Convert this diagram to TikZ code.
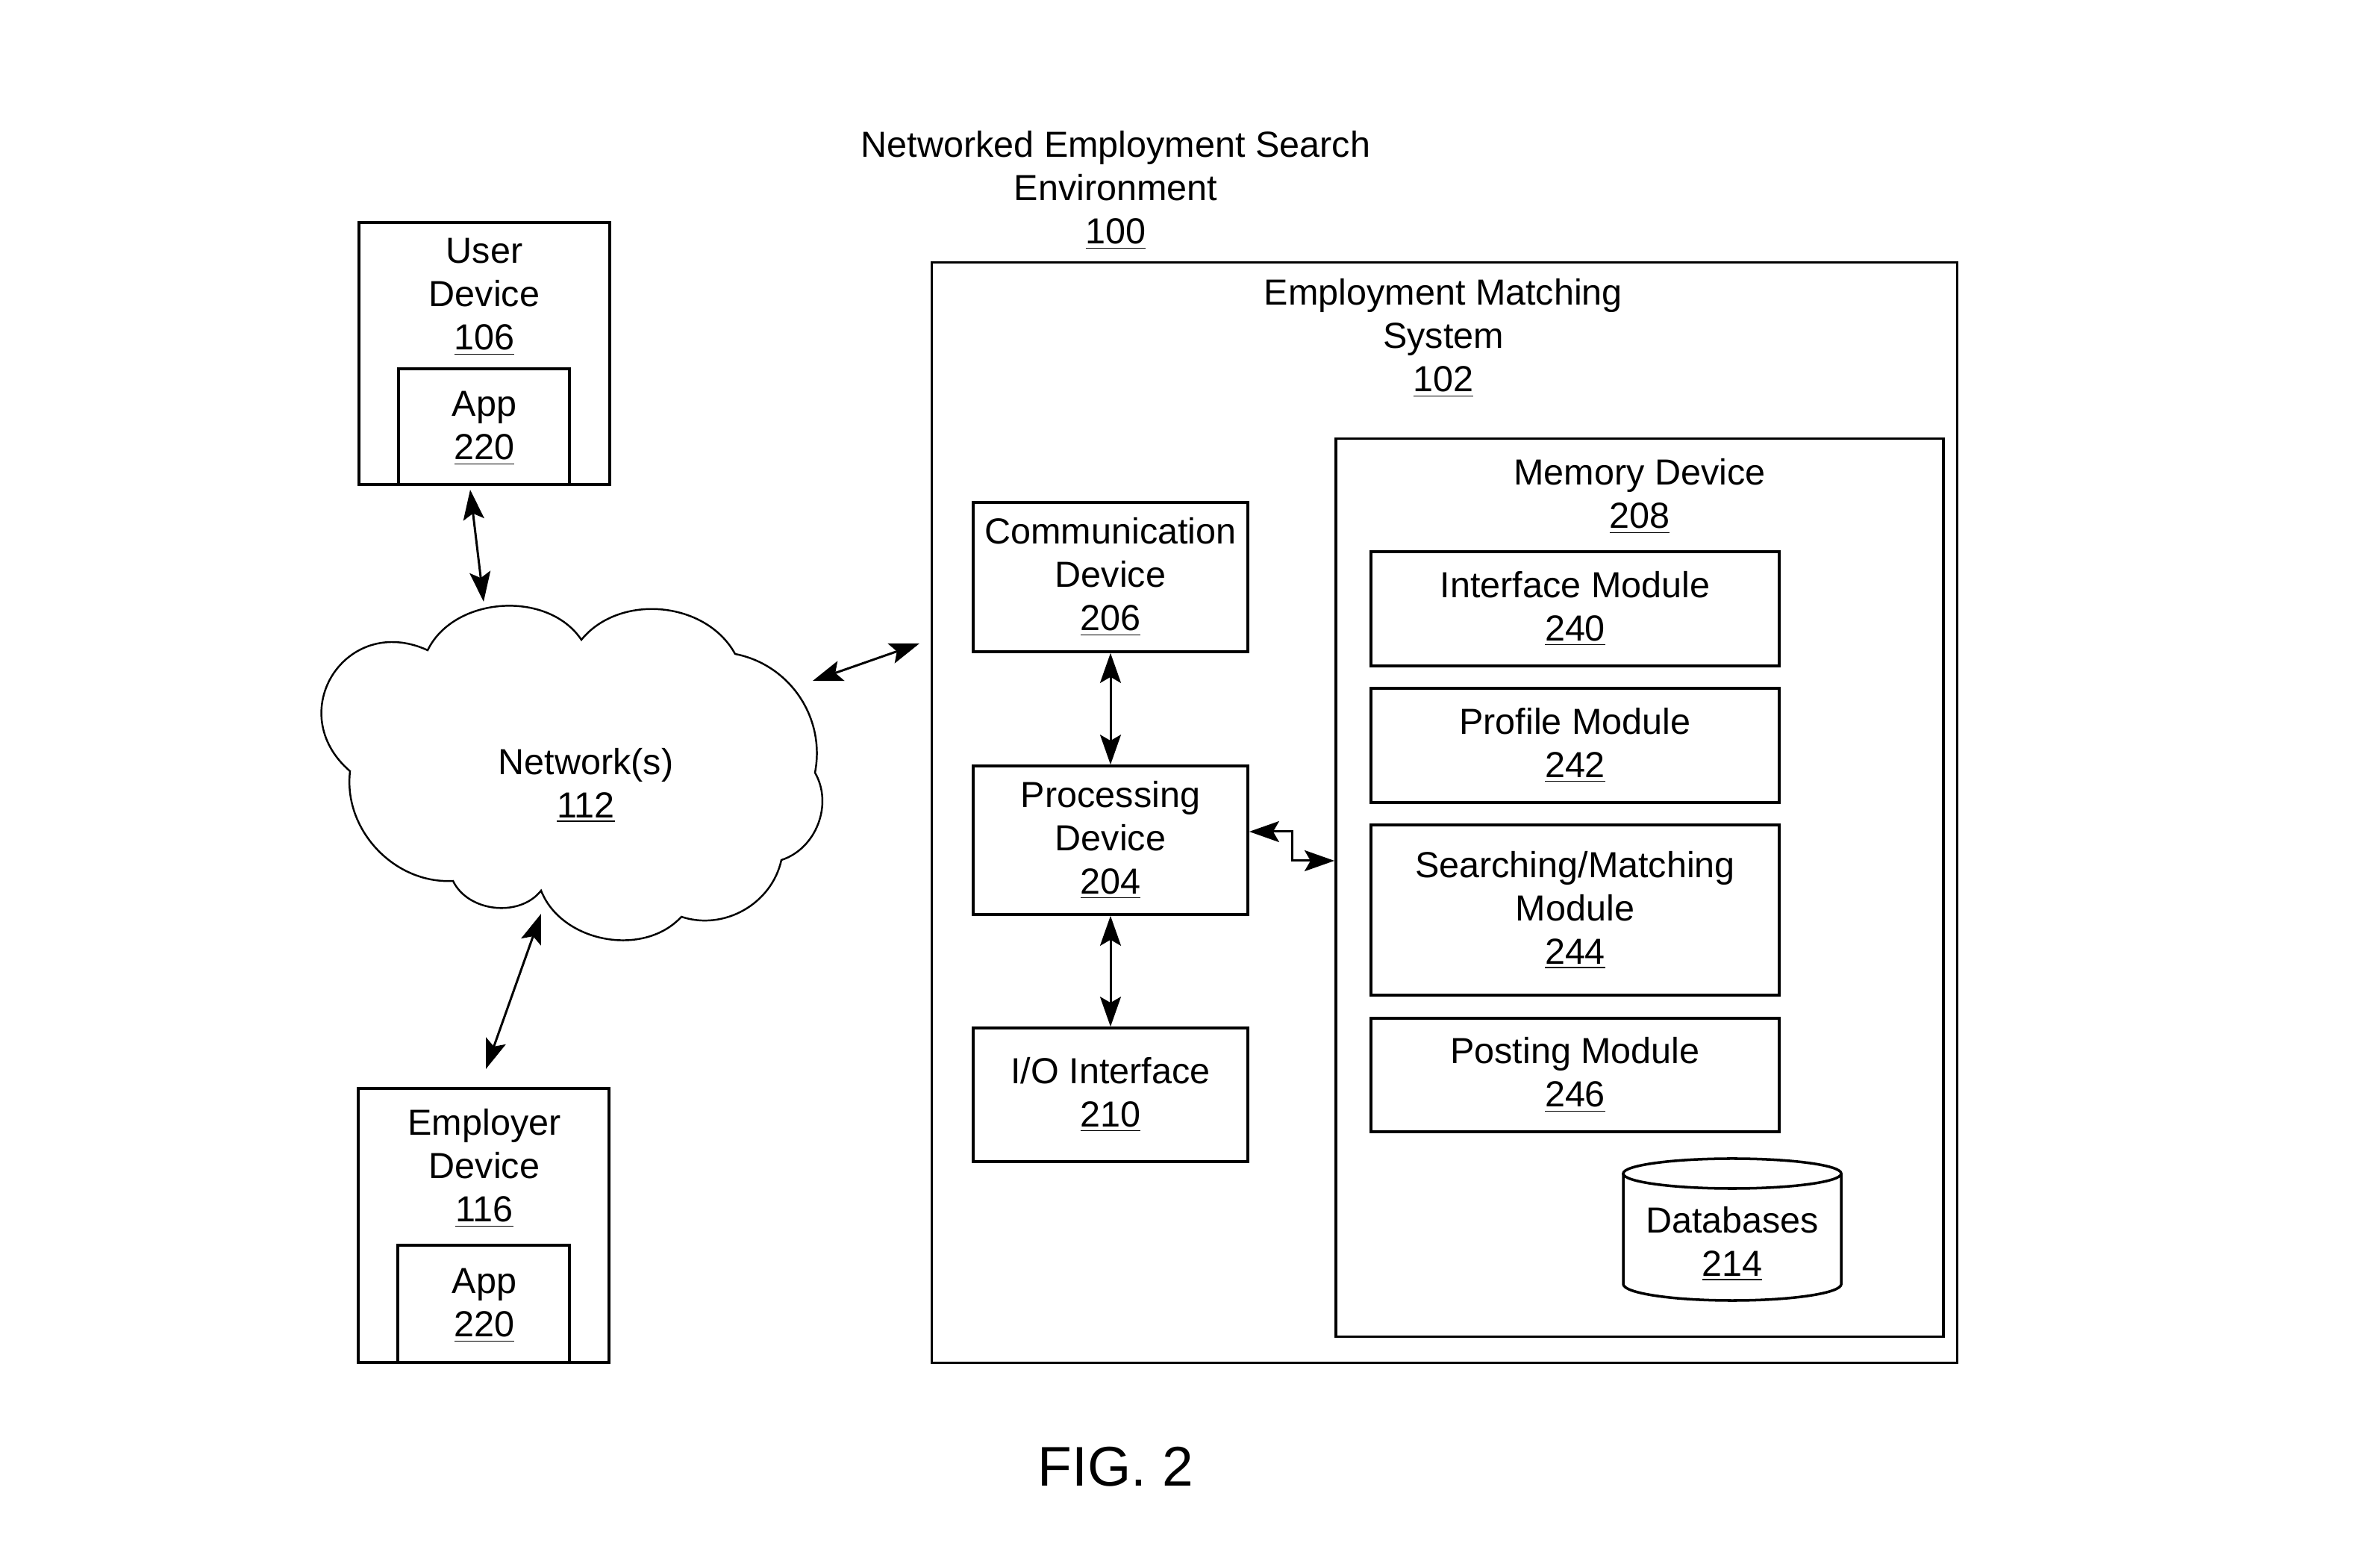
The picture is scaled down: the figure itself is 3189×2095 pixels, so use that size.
\documentclass[tikz,border=0pt]{standalone}
\usepackage{fontspec}
\setmainfont{Liberation Sans}
\usetikzlibrary{arrows.meta,calc}
\newcommand\dfont{\fontsize{13.8}{16.5}\selectfont}
\begin{document}
\begin{tikzpicture}[x=0.01cm,y=-0.01cm,
  box/.style={draw, line width=1pt, inner sep=0pt, align=center, font=\dfont},
  txt/.style={align=center, inner sep=0pt, font=\dfont},
  arr/.style={line width=0.85pt, {Stealth[length=4mm,width=2.8mm,inset=0.8mm]}-{Stealth[length=4mm,width=2.8mm,inset=0.8mm]}}]
\useasboundingbox (0,0) rectangle (3189,2095);
% title
\node[txt] (title) at (1495,255) {Networked Employment Search\\Environment\\\underline{100}};
% user device
\node[box, minimum width=3.36cm, minimum height=3.51cm] (user) at (649,473.5) {};
\node[txt] (usert) at (649,398) {User\\Device\\\underline{106}};
\node[box, minimum width=2.29cm, minimum height=1.55cm] (uapp) at (648.5,571.5) {};
\node[txt] (uappt) at (649,574) {App\\\underline{220}};
% employer device
\node[box, minimum width=3.36cm, minimum height=3.67cm] (emp) at (648,1641.5) {};
\node[txt] (empt) at (649,1565) {Employer\\Device\\\underline{116}};
\node[box, minimum width=2.30cm, minimum height=1.57cm] (eapp) at (648,1746.5) {};
\node[txt] (eappt) at (649,1749) {App\\\underline{220}};
% cloud
\draw[line width=0.7pt] (573,871) to[bend left=60] (779,857) to[bend left=56] (985,876)
  to[bend left=45] (1092,1035) to[bend left=51] (1047,1152) to[bend left=48] (913,1228)
  to[bend left=58] (725,1193) to[bend left=58] (607,1180) to[bend left=50] (469,1033)
  to[bend left=82, looseness=1.6] cycle;
\node[txt] (net) at (785,1052) {Network(s)\\\underline{112}};
% employment matching system
\node[box, minimum width=13.73cm, minimum height=14.73cm] (ems) at (1935.5,1088.5) {};
\node[txt] (emst) at (1934,453) {Employment Matching\\System\\\underline{102}};
\node[box, minimum width=3.68cm, minimum height=2.00cm] (comm) at (1488,773) {Communication\\Device\\\underline{206}};
\node[box, minimum width=3.68cm, minimum height=1.99cm] (proc) at (1488,1125.5) {Processing\\Device\\\underline{204}};
\node[box, minimum width=3.68cm, minimum height=1.79cm] (io) at (1488,1466.5) {I/O Interface\\\underline{210}};
% memory device
\node[box, minimum width=8.14cm, minimum height=12.02cm] (mem) at (2197,1189) {};
\node[txt] (memt) at (2197,665) {Memory Device\\\underline{208}};
\node[box, minimum width=5.47cm, minimum height=1.53cm] (im) at (2110.5,815.5) {Interface Module\\\underline{240}};
\node[box, minimum width=5.47cm, minimum height=1.53cm] (pm) at (2110.5,998.5) {Profile Module\\\underline{242}};
\node[box, minimum width=5.47cm, minimum height=2.28cm] (sm) at (2110.5,1219) {Searching/Matching\\Module\\\underline{244}};
\node[box, minimum width=5.47cm, minimum height=1.52cm] (post) at (2110.5,1440) {Posting Module\\\underline{246}};
% databases
\draw[line width=1pt] (2321,1572) ellipse [x radius=1.46cm, y radius=0.2cm];
\draw[line width=1pt] (2175,1572) -- (2175,1720) arc[start angle=180, end angle=360, x radius=1.46cm, y radius=0.22cm] -- (2467,1572);
\node[txt] (db) at (2321,1666) {Databases\\\underline{214}};
% connectors
\coordinate (ua) at (630,656);
\coordinate (ub) at (648,806);
\draw[arr] (ua) -- (ub);
\coordinate (na) at (1089,912);
\coordinate (nb) at (1232,862);
\draw[arr] (na) -- (nb);
\coordinate (ea) at (725,1224);
\coordinate (eb) at (651,1432);
\draw[arr] (ea) -- (eb);
\draw[arr] (comm.south) -- (proc.north);
\draw[arr] (proc.south) -- (io.north);
\draw[arr] (proc.east |- 0,1114) -- (1731,1114) -- (1731,1153) -- (mem.west |- 0,1153);
% figure label
\node[inner sep=0pt, font=\fontsize{21.3}{25}\selectfont] (fig) at (1495,1965) {FIG. 2};
\end{tikzpicture}
\end{document}
